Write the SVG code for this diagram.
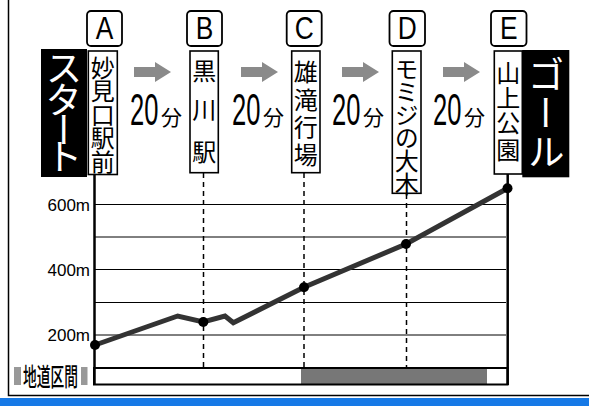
<svg xmlns="http://www.w3.org/2000/svg" width="589" height="406" viewBox="0 0 589 406">
<style>
.box{fill:#fff;stroke:#000;stroke-width:1.6}
.lbl{fill:#fff;stroke:#000;stroke-width:1.8}
.let{font-family:"Liberation Sans",Arial,sans-serif;font-size:31px;text-anchor:middle;fill:#000}
.v{font-family:"Noto Sans CJK JP",sans-serif;font-size:24px;writing-mode:vertical-rl;text-anchor:middle;fill:#000}
.vw{font-family:"Noto Sans CJK JP",sans-serif;font-size:37px;writing-mode:vertical-rl;text-anchor:middle;fill:#fff}
.num{font-family:"Liberation Sans",Arial,sans-serif;font-size:44px;fill:#000}
.fen{font-family:"Noto Sans CJK JP",sans-serif;font-size:21px;fill:#000}
.ax{font-family:"Liberation Sans",Arial,sans-serif;font-size:17px;text-anchor:end;fill:#000}
.grid{stroke:#000;stroke-width:1}
.dash{stroke:#000;stroke-width:1.5;stroke-dasharray:5 4}
.arr{fill:#8a8a8a}
</style>
<defs>
<path id="arrow" d="M0,-5 H21 V-10 L37,0 L21,10 V5 H0 Z"/>
</defs>
<rect x="0" y="398" width="589" height="8" fill="#1679e6"/>
<path d="M8.5,0 V395.5 H589" fill="none" stroke="#000" stroke-width="1.5"/>

<g id="chart">
<line class="grid" x1="95" y1="204.5" x2="506" y2="204.5"/>
<line class="grid" x1="95" y1="237" x2="506" y2="237"/>
<line class="grid" x1="95" y1="269.5" x2="506" y2="269.5"/>
<line class="grid" x1="95" y1="302.5" x2="506" y2="302.5"/>
<line class="grid" x1="95" y1="335" x2="506" y2="335"/>
<rect x="301" y="368" width="186" height="16.5" fill="#777"/>
<rect x="94" y="368" width="413.5" height="16.5" fill="none" stroke="#000" stroke-width="2"/>
<line x1="94.5" y1="174" x2="94.5" y2="385" stroke="#000" stroke-width="2.5"/>
<line x1="507.7" y1="174" x2="507.7" y2="385" stroke="#000" stroke-width="2.5"/>
<text class="ax" x="90" y="210.5">600m</text>
<text class="ax" x="90" y="275.5">400m</text>
<text class="ax" x="90" y="341">200m</text>
<rect x="14" y="367" width="7" height="18" fill="#999"/>
<rect x="81" y="367" width="6.5" height="18" fill="#999"/>
<text transform="translate(23,386) scale(0.55,1)" font-family="'Noto Sans CJK JP',sans-serif" font-size="25" font-weight="500">地道区間</text>
</g>

<g id="connectors">
<line class="dash" x1="203.5" y1="173" x2="203.5" y2="368"/>
<line class="dash" x1="304" y1="173" x2="304" y2="368"/>
<line class="dash" x1="406.5" y1="194" x2="406.5" y2="368"/>
<polyline points="95,345 177.7,316 203.3,322 225,316 233.3,322.7 304,287.3 406,244 507.7,188.3" fill="none" stroke="#333" stroke-width="5"/>
<use href="#arrow" class="arr" x="134" y="72"/>
<use href="#arrow" class="arr" x="241" y="72"/>
<use href="#arrow" class="arr" x="342" y="72"/>
<use href="#arrow" class="arr" x="443" y="72"/>
<text class="num" transform="translate(130,125) scale(0.58,1)">20</text><text class="fen" x="161" y="125">分</text>
<text class="num" transform="translate(232,125) scale(0.58,1)">20</text><text class="fen" x="263" y="125">分</text>
<text class="num" transform="translate(332,125) scale(0.58,1)">20</text><text class="fen" x="363" y="125">分</text>
<text class="num" transform="translate(433,125) scale(0.58,1)">20</text><text class="fen" x="464" y="125">分</text>
</g>

<g id="start">
<rect x="41" y="49" width="46" height="128" fill="#000"/>
<text class="vw" x="64" y="68">ス</text>
<text class="vw" x="64" y="100">タ</text>
<text class="vw" x="64" y="130">ー</text>
<text class="vw" x="64" y="157">ト</text>
</g>

<g id="nodeA">
<rect class="lbl" x="87" y="11" width="35" height="35" rx="4"/>
<text class="let" transform="translate(104.5,39) scale(0.85,1)">A</text>
<rect class="box" x="88.3" y="51" width="29" height="123.5"/>
<text class="v" x="102.8" y="67.5">妙</text>
<text class="v" x="102.8" y="91">見</text>
<text class="v" x="102.8" y="114.5">口</text>
<text class="v" x="102.8" y="138">駅</text>
<text class="v" x="102.8" y="161.5">前</text>
<circle cx="95" cy="345" r="5"/>
</g>

<g id="nodeB">
<rect class="lbl" x="187" y="11" width="35" height="35" rx="4"/>
<text class="let" transform="translate(204.5,39) scale(0.85,1)">B</text>
<rect class="box" x="190" y="51" width="28.3" height="121.7"/>
<text class="v" x="204.2" y="71">黒</text>
<text class="v" x="204.2" y="110">川</text>
<text class="v" x="204.2" y="151.5">駅</text>
<circle cx="203.3" cy="322" r="5"/>
</g>

<g id="nodeC">
<rect class="lbl" x="286.7" y="11" width="35" height="35" rx="4"/>
<text class="let" transform="translate(304.2,39) scale(0.85,1)">C</text>
<rect class="box" x="291.7" y="51" width="28.3" height="121.7"/>
<text class="v" x="305.8" y="72">雄</text>
<text class="v" x="305.8" y="99.5">滝</text>
<text class="v" x="305.8" y="127">行</text>
<text class="v" x="305.8" y="154.5">場</text>
<circle cx="304" cy="287.3" r="5"/>
</g>

<g id="nodeD">
<rect class="lbl" x="389.5" y="11" width="35.5" height="35" rx="4"/>
<text class="let" transform="translate(407.2,39) scale(0.85,1)">D</text>
<rect class="box" x="392.3" y="51" width="28.7" height="142.3"/>
<text class="v" x="406.7" y="69">モ</text>
<text class="v" x="406.7" y="92">ミ</text>
<text class="v" x="406.7" y="115">ジ</text>
<text class="v" x="406.7" y="138">の</text>
<text class="v" x="406.7" y="161">大</text>
<text class="v" x="406.7" y="183.5">木</text>
<circle cx="406" cy="244" r="5"/>
</g>

<g id="nodeE">
<rect class="lbl" x="491" y="11" width="35.5" height="35" rx="4"/>
<text class="let" transform="translate(508.8,39) scale(0.85,1)">E</text>
<rect class="box" x="494.3" y="51" width="28" height="123"/>
<text class="v" x="508.3" y="72.5">山</text>
<text class="v" x="508.3" y="97.5">上</text>
<text class="v" x="508.3" y="123">公</text>
<text class="v" x="508.3" y="150">園</text>
<circle cx="507.5" cy="188.3" r="5"/>
</g>

<g id="goal">
<rect x="522.3" y="50" width="47" height="127.3" fill="#000"/>
<text class="vw" x="546" y="75">ゴ</text>
<text class="vw" x="546" y="113">ー</text>
<text class="vw" x="546" y="152">ル</text>
</g>
</svg>
